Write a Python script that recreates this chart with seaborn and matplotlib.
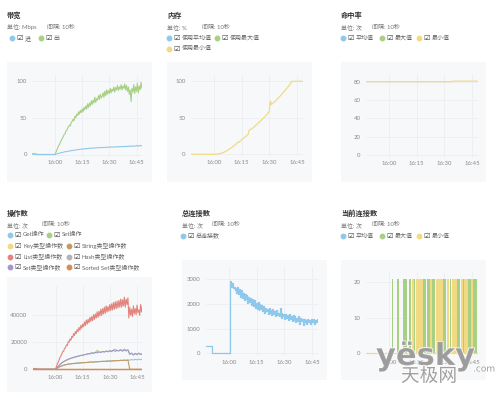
import numpy as np
import matplotlib
matplotlib.use('Agg')
import matplotlib.pyplot as plt
import seaborn as sns
from matplotlib.transforms import Affine2D
from matplotlib.patches import Rectangle
from matplotlib.lines import Line2D
import matplotlib.patheffects as pe

# ---------------- data ----------------
time_ticks = [0, 15, 30, 45]
time_labels = ['16:00', '16:15', '16:30', '16:45']

# 带宽 (Mbps)
bw_pre_t = [-12.5, -10.5, -10, 0]
bw_out_pre = [1, 1, 0, 0]
bw_in_pre = [0.5, 0.5, 0, 0]
bw_out = [0, 3, 6, 9, 12, 14, 17, 19, 22, 24, 27, 28, 32, 33, 36, 38, 40, 39, 44, 45,
          48, 46, 52, 50, 55, 53, 58, 55, 60, 57, 62, 58, 64, 61, 66, 62, 69, 64, 70, 66,
          73, 68, 74, 70, 78, 71, 76, 74, 80, 75, 82, 77, 79, 84, 78, 86, 80, 88, 82, 87,
          83, 90, 84, 89, 86, 92, 85, 91, 88, 94, 87, 92, 89, 95, 88, 93, 90, 96, 88, 94,
          86, 92, 82, 88, 72, 90, 85, 95, 83, 92, 86, 97, 84, 93, 88, 98, 90]
bw_in = [0, 0.8, 1.5, 2.2, 2.8, 3.4, 3.9, 4.3, 4.8, 5.2, 5.6, 6.1, 6.3, 6.8, 7.0, 7.5,
         7.4, 8.1, 8.0, 8.6, 8.3, 9.0, 8.7, 9.3, 9.0, 9.6, 9.2, 9.8, 9.5, 10.1, 9.7, 10.4,
         9.9, 10.6, 10.1, 10.8, 10.3, 11.0, 10.5, 11.2, 10.7, 11.5, 10.9, 11.8, 11.0, 12.2,
         11.3, 12.4, 11.6]

# 内存 (%)
mem_t = [-12.5, 0, 2, 4, 6, 8, 10, 12, 13, 13.5, 15, 17, 18.5, 19, 19.5, 20, 22, 24, 26,
         28, 29.5, 30, 30.3, 30.7, 31, 31.5, 33, 35, 37, 39, 41, 42, 42.3, 48]
mem_min = [0, 0, 0.3, 1.5, 3.5, 6.5, 10, 14, 17, 16.5, 20, 24, 27, 33, 34, 34, 38, 43,
           47.5, 52.5, 57, 59, 70, 72.5, 68, 69, 72.5, 77.5, 83, 89, 95, 99.5, 100, 100]

# 命中率
hit_t = [-12.5, 34, 34.5, 48]
hit_min = [80, 80, 80.6, 80.6]

# 操作数
ops_pre_t = [-12.5, -10.5, -10, 0]
list_pre = [600, 600, 0, 0]
ops_list = [0, 2000, 4000, 5500, 7000, 8800, 10000, 11500, 13000, 13500, 15500, 16000,
            18000, 17500, 20500, 20000, 22500, 21500, 24500, 23500, 26500, 25000, 28000,
            26500, 29500, 28000, 31000, 29000, 32500, 30500, 33500, 31500, 35000, 32500,
            36500, 33500, 37000, 34500, 38500, 35500, 39000, 36000, 40500, 37000, 41000,
            38000, 42500, 38500, 43000, 39500, 44500, 40000, 45000, 41000, 46000, 41500,
            47000, 42500, 46500, 43000, 48000, 43500, 48500, 44000, 49500, 44500, 50000,
            45000, 50500, 45500, 51000, 46000, 52000, 46000, 51500, 47000, 53500, 46000,
            52000, 48000, 53000, 38000, 46000, 40000, 44500, 39000, 47000, 41000, 45000,
            40500, 47500, 42000, 44000, 40000, 48000, 42500, 47000]
ops_set_type = [0, 1500, 3000, 4200, 5300, 6000, 6800, 7300, 8000, 8300, 8900, 9100, 9600,
                9800, 10300, 10400, 10900, 11000, 11600, 11400, 12200, 11800, 12500, 12200,
                12900, 12400, 13200, 12700, 13500, 12900, 13800, 13100, 14200, 13300, 14000,
                13500, 14500, 13400, 14300, 13600, 14400, 11000, 12000, 10500, 11800, 10800,
                12000, 10900, 11600]
ops_set = [0, 1400, 2900, 4300, 5200, 6100, 6700, 7400, 7900, 8400, 8800, 9200, 9500,
           9900, 10200, 10500, 10800, 11100, 11500, 11600, 12100, 12000, 12400, 14000,
           12800, 12700, 13100, 13100, 13400, 13300, 13700, 13600, 14100, 14800, 13900,
           14000, 14400, 13800, 15000, 14100, 14300, 11400, 11800, 11000, 11600, 11200,
           11800, 11300, 11500]
ops_string = [0, 900, 1700, 2300, 2800, 3200, 3500, 3800, 4000, 4100, 4300, 4400, 4600,
              4600, 4800, 4900, 5000, 5000, 5200, 5300, 5400, 5300, 5600, 5500, 5700, 5800,
              5900, 5800, 6100, 6000, 6200, 6100, 6400, 6300, 6500, 6400, 6700, 6500, 6800,
              6600, 6900, 0, 0, 0, 0, 0, 0, 0, 0]
ops_get = [0, 900, 1700, 2300, 2800, 3200, 3500, 3800, 4000, 4100, 4300, 4400, 4600,
           4600, 4800, 4900, 5000, 5000, 5200, 5300, 5400, 5300, 5600, 5500, 5700, 5800,
           5900, 5800, 6100, 6000, 6200, 6100, 6400, 6300, 6500, 6400, 6700, 6500, 6800,
           6600, 6900, 6800, 7200, 6900, 7400, 7000, 7500, 7100, 7600]
ops_zero_t = [-12.5, 48]
ops_zero = [0, 0]

# 总连接数
conn_pre_t = [-12.5, -9]
conn_pre = [300, 0]
conn_total = [2950, 2700, 2850, 2650, 2700, 2550, 2650, 2450, 2700, 2400, 2600, 2300,
              2550, 2250, 2450, 2150, 2400, 2200, 2350, 2050, 2300, 2100, 2250, 1950, 2200,
              1900, 2150, 1850, 2050, 1800, 2100, 1750, 2000, 1800, 1950, 1700, 1900, 1650,
              1850, 1700, 1800, 1600, 1850, 1650, 1750, 1550, 1800, 1600, 1700, 1500, 1750,
              1550, 1650, 1500, 1850, 1450, 1650, 1500, 1600, 1400, 1600, 1450, 1550, 1350,
              1600, 1400, 1500, 1300, 1550, 1350, 1500, 1250, 1450, 1300, 1500, 1200, 1450,
              1300, 1400, 1150, 1400, 1250, 1350, 1200, 1400, 1250, 1350, 1200, 1400, 1250,
              1400, 1200, 1350, 1250, 1400, 1300]

# 当前连接数 (stripes: start, end, series)
cur_start = [1.5, 4.2, 7.4, 11.0, 12.2, 13.5, 14.5, 18.5, 20.5, 22.3, 23.5, 25.3, 29.5,
             31.2, 33.0, 34.0, 37.0, 38.8, 40.0, 40.4, 43.0, 44.5, 45.7, 46.0]
cur_end = [2.4, 5.6, 9.6, 12.0, 13.3, 14.3, 18.2, 19.8, 22.0, 23.2, 25.0, 29.2, 31.0,
           32.7, 33.8, 36.7, 38.5, 40.0, 40.4, 42.8, 44.2, 45.7, 46.0, 47.5]
cur_series = ['max', 'max', 'max', 'max', 'min', 'max', 'min', 'max', 'max', 'min', 'max',
              'min', 'max', 'min', 'max', 'min', 'max', 'min', 'avg', 'min', 'max', 'min',
              'avg', 'max']
cur_top = 21
cur_flat_t = [-12.5, 48]
cur_flat = [0, 0]

# ---------------- style ----------------
C_BLUE = '#8ec8ea'
C_GREEN = '#a7d084'
C_YELLOW = '#f2da84'
C_RED = '#e2857c'
C_PURPLE = '#a496d0'
C_BROWN = '#c49a62'
C_GRAY = '#b3b3b3'
C_ORANGE = '#d98a50'

W, H = 500, 398
sns.set_theme(style='white')
plt.rcParams['font.family'] = ['Lato', 'Noto Sans CJK SC', 'DejaVu Sans']

fig = plt.figure(figsize=(W / 100, H / 100), dpi=100)
fig.patch.set_facecolor('white')
PX = Affine2D().scale(1 / W, -1 / H).translate(0, 1) + fig.transFigure

XLIM = (-12.5, 48)


def make_ax(px0, px45, py0, py1, v1, ylim, yticks):
    sx = (px45 - px0) / 45
    left = px0 + XLIM[0] * sx
    right = px0 + XLIM[1] * sx
    sy = (py0 - py1) / v1
    bot = py0 - ylim[0] * sy
    top = py0 - ylim[1] * sy
    ax = fig.add_axes([left / W, 1 - bot / H, (right - left) / W, (bot - top) / H])
    ax.set_xlim(*XLIM)
    ax.set_ylim(*ylim)
    ax.set_facecolor('none')
    for s in ax.spines.values():
        s.set_visible(False)
    ax.set_xticks(time_ticks)
    ax.set_xticklabels(time_labels)
    ax.set_yticks(yticks)
    ax.set_yticklabels([str(v) for v in yticks])
    ax.tick_params(length=0, labelsize=4.3, labelcolor='#8a8a8a')
    ax.tick_params(axis='x', pad=2.5)
    ax.tick_params(axis='y', pad=4)
    ax.grid(True, color='#eceef1', lw=0.6)
    ax.set_axisbelow(True)
    return ax


def box(x0, y0, x1, y1):
    fig.add_artist(Rectangle((x0, y0), x1 - x0, y1 - y0, transform=PX,
                             facecolor='#f7f8fa', edgecolor='none', zorder=-5))


def header(x, y, title, unit_x2, unit, legend_rows):
    fig.text(x, y, title, transform=PX, fontsize=5.2, fontweight='bold',
             color='#333333', va='center', ha='left')
    fig.text(x, y + 11.5, unit, transform=PX, fontsize=4.3, color='#777777',
             va='center', ha='left')
    fig.text(unit_x2, y + 11.5, '间隔: 10秒', transform=PX, fontsize=4.3,
             color='#777777', va='center', ha='left')
    for (ly, items) in legend_rows:
        for (dx, col, lab) in items:
            fig.add_artist(Line2D([dx], [ly], transform=PX, marker='o', ms=3.2,
                                  color=col, linestyle='none'))
            fig.text(dx + 7.5, ly, '☑', transform=PX, fontsize=5.2,
                     family='DejaVu Sans', color='#444444', va='center', ha='center')
            fig.text(dx + 13, ly, lab, transform=PX, fontsize=4.3,
                     color='#666666', va='center', ha='left')


def line(ax, t, v, col, lw=0.8, **kw):
    sns.lineplot(x=t, y=v, ax=ax, color=col, linewidth=lw, **kw)
    ax.set_xlabel('')
    ax.set_ylabel('')


def grid_t(start, step, n):
    return start + step * np.arange(n)


# ---------- panel 1 : 带宽 ----------
box(7, 62, 152, 182)
header(7, 15.5, '带宽', 47, '单位: Mbps',
       [(38.3, [(11.7, C_BLUE, '进'), (40.7, C_GREEN, '出')])])
ax1 = make_ax(55, 136.5, 154.5, 81, 100, (-3, 108), [0, 50, 100])
line(ax1, np.r_[bw_pre_t, grid_t(0, 0.5, len(bw_out))], np.r_[bw_out_pre, bw_out], C_GREEN)
line(ax1, np.r_[bw_pre_t, grid_t(0, 1, len(bw_in))], np.r_[bw_in_pre, bw_in], C_BLUE)

# ---------- panel 2 : 内存 ----------
box(167, 62, 312, 182)
header(167, 15.5, '内存', 202, '单位: %',
       [(38.3, [(169, C_BLUE, '使用平均值'), (217, C_GREEN, '使用最大值')]),
        (48.5, [(169, C_YELLOW, '使用最小值')])])
ax2 = make_ax(214, 297, 154.3, 81.3, 100, (-3, 108), [0, 50, 100])
line(ax2, mem_t, mem_min, C_YELLOW, lw=0.9)

# ---------- panel 3 : 命中率 ----------
box(341, 62, 486, 182)
header(341, 15.5, '命中率', 372, '单位: 次',
       [(38.3, [(343, C_BLUE, '平均值'), (382, C_GREEN, '最大值'), (419, C_YELLOW, '最小值')])])
ax3 = make_ax(389, 472, 155, 81.7, 80, (-3, 88), [0, 20, 40, 60, 80])
line(ax3, hit_t, hit_min, C_YELLOW, lw=0.9)

# ---------- panel 4 : 操作数 ----------
box(7, 277, 152, 392)
header(7, 213.3, '操作数', 42, '单位: 次',
       [(235, [(10, C_BLUE, 'Get操作'), (49, C_GREEN, 'Set操作')]),
        (245.8, [(10, C_YELLOW, 'Key类型操作数'), (69, C_BROWN, 'String类型操作数')]),
        (256.6, [(10, C_RED, 'List类型操作数'), (69, C_GRAY, 'Hash类型操作数')]),
        (267.4, [(10, C_PURPLE, 'Set类型操作数'), (69, C_ORANGE, 'Sorted Set类型操作数')])])
ax4 = make_ax(55.5, 137, 369.3, 315.3, 40000, (-1500, 62000), [0, 20000, 40000])
t1 = grid_t(0, 1, 49)
line(ax4, np.r_[ops_zero_t[0], 0, t1], np.r_[0, 0, ops_get], C_BLUE)
line(ax4, np.r_[ops_zero_t[0], 0, t1], np.r_[0, 0, ops_set], C_GREEN)
line(ax4, ops_zero_t, ops_zero, C_YELLOW)
line(ax4, np.r_[ops_zero_t[0], 0, t1], np.r_[0, 0, ops_string], C_BROWN)
line(ax4, np.r_[ops_pre_t, grid_t(0, 0.5, len(ops_list))], np.r_[list_pre, ops_list], C_RED)
line(ax4, ops_zero_t, ops_zero, C_GRAY)
line(ax4, np.r_[ops_zero_t[0], 0, t1], np.r_[0, 0, ops_set_type], C_PURPLE)
line(ax4, ops_zero_t, ops_zero, C_ORANGE, lw=1.0)

# ---------- panel 5 : 总连接数 ----------
box(182, 260, 327, 380)
header(182, 213.3, '总连接数', 212, '单位: 次',
       [(236, [(183, C_BLUE, '总连接数')])])
ax5 = make_ax(229, 312, 353.3, 279.3, 3000, (-120, 3500), [0, 1000, 2000, 3000])
line(ax5, np.r_[conn_pre_t, grid_t(0.5, 0.5, len(conn_total))], np.r_[conn_pre, conn_total],
     C_BLUE, lw=0.9, drawstyle='steps-post')

# ---------- panel 6 : 当前连接数 ----------
box(341, 260, 486, 380)
header(341, 213.3, '当前连接数', 372, '单位: 次',
       [(236, [(343, C_BLUE, '平均值'), (382, C_GREEN, '最大值'), (419, C_YELLOW, '最小值')])])
ax6 = make_ax(389, 472, 353.3, 282.3, 20, (-0.8, 23), [0, 10, 20])
col_map = {'avg': C_BLUE, 'max': C_GREEN, 'min': C_YELLOW}
for key in ['max', 'min', 'avg']:
    s = np.array([a for a, k in zip(cur_start, cur_series) if k == key])
    e = np.array([b for b, k in zip(cur_end, cur_series) if k == key])
    ax6.bar(s, cur_top, width=e - s, align='edge', color=col_map[key], linewidth=0)
line(ax6, cur_flat_t, cur_flat, C_YELLOW, lw=0.9)

# ---------- watermark ----------
stroke = [pe.withStroke(linewidth=1.2, foreground='white')]
fig.text(376, 365, 'yësky', transform=PX, fontsize=22, fontweight='bold',
         family='DejaVu Sans', color='#9c9c9c', alpha=0.9, ha='left', va='baseline',
         path_effects=stroke, zorder=20)
fig.text(429, 376, '天极网', transform=PX, fontsize=13.5, family='Noto Sans CJK SC',
         color='#a0a0a0', ha='center', va='center', path_effects=stroke, zorder=20)
fig.text(473, 369, '.com', transform=PX, fontsize=6.5, family='DejaVu Sans',
         color='#9c9c9c', ha='left', va='center', path_effects=stroke, zorder=20)

fig.savefig('out.png', dpi=100, facecolor='white')
